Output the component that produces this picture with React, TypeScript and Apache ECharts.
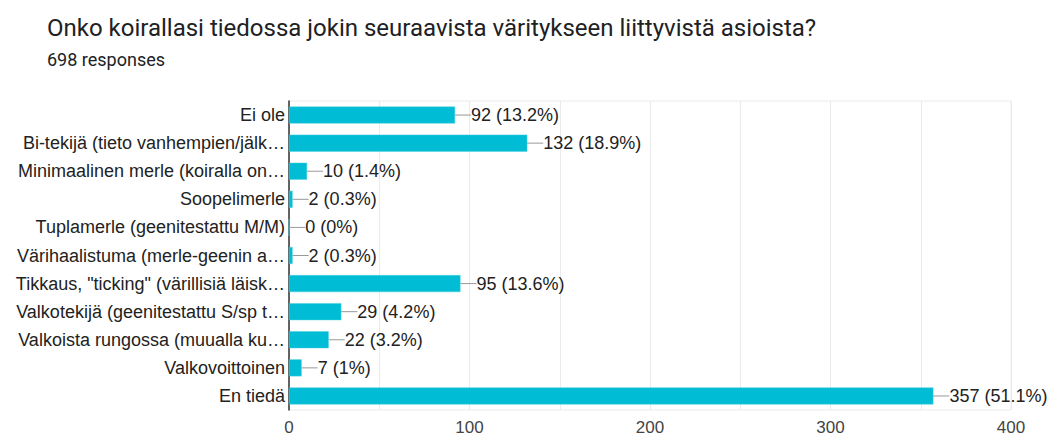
import React, { useEffect, useRef } from "react";
import * as echarts from "echarts";

const title = "Onko koirallasi tiedossa jokin seuraavista väritykseen liittyvistä asioista?";
const subtitle = "698 responses";

const categories = [
  "Ei ole",
  "Bi-tekijä (tieto vanhempien/jälk…",
  "Minimaalinen merle (koiralla on…",
  "Soopelimerle",
  "Tuplamerle (geenitestattu M/M)",
  "Värihaalistuma (merle-geenin a…",
  "Tikkaus, \"ticking\" (värillisiä läisk…",
  "Valkotekijä (geenitestattu S/sp t…",
  "Valkoista rungossa (muualla ku…",
  "Valkovoittoinen",
  "En tiedä",
];
const counts = [92, 132, 10, 2, 0, 2, 95, 29, 22, 7, 357];
const percents = ["13.2%", "18.9%", "1.4%", "0.3%", "0%", "0.3%", "13.6%", "4.2%", "3.2%", "1%", "51.1%"];
const xTicks = [0, 100, 200, 300, 400];

export default function App() {
  const ref = useRef<HTMLDivElement>(null);
  useEffect(() => {
    if (!ref.current) return;
    const chart = echarts.init(ref.current, undefined, { renderer: "svg" });
    const font = "Liberation Sans, Arial, sans-serif";
    chart.setOption({
      animation: false,
      title: [
        {
          text: title,
          left: 47,
          top: 16,
          padding: 0,
          textStyle: { fontFamily: "Roboto", fontSize: 24, fontWeight: "normal", color: "#202124" },
        },
        {
          text: subtitle,
          left: 47,
          top: 50,
          padding: 0,
          textStyle: { fontFamily: "Roboto", fontSize: 18, fontWeight: "normal", color: "#202124" },
        },
      ],
      grid: { left: 289, right: 41, top: 101, bottom: 28, show: true, borderColor: "#ebebeb", borderWidth: 1 },
      xAxis: {
        type: "value",
        min: 0,
        max: 400,
        interval: 50,
        axisLine: { show: false },
        axisTick: { show: false },
        splitLine: { show: true, lineStyle: { color: "#ebebeb", width: 1 } },
        axisLabel: {
          fontFamily: font,
          fontSize: 17,
          color: "#444",
          margin: 9,
          formatter: (v: number) => (xTicks.includes(v) ? String(v) : ""),
        },
      },
      yAxis: {
        type: "category",
        inverse: true,
        data: categories,
        axisLine: { show: true, lineStyle: { color: "#333", width: 1.5 } },
        axisTick: { show: false },
        axisLabel: { fontFamily: font, fontSize: 18, color: "#222", margin: 4 },
      },
      series: [
        {
          type: "bar",
          data: counts,
          barWidth: 17,
          itemStyle: { color: "#00bcd4", borderColor: "#4dd0e1", borderWidth: 0.5 },
          label: {
            show: true,
            position: "right",
            distance: 0,
            fontFamily: font,
            fontSize: 18,
            color: "#222",
            formatter: (p: any) => `${counts[p.dataIndex]} (${percents[p.dataIndex]})`,
          },
          labelLayout: { dx: 16 },
          labelLine: { show: true, length2: 0, lineStyle: { color: "#999", width: 1 } },
        },
      ],
    });
    return () => chart.dispose();
  }, []);
  return <div ref={ref} style={{ position: "fixed", left: 0, top: 0, width: 1052, height: 438, background: "#fff" }} />;
}
